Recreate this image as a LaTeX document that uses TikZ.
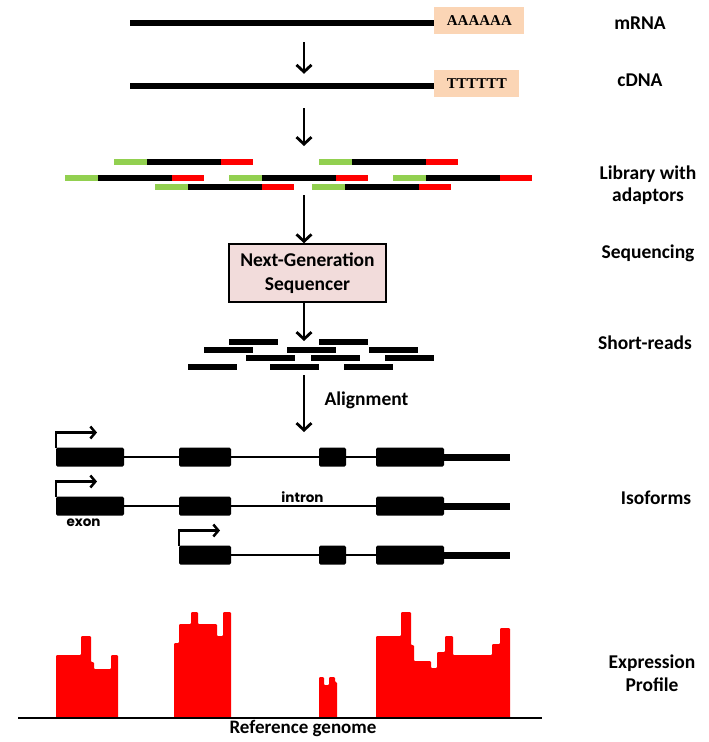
\documentclass[tikz,border=0pt]{standalone}
\usepackage{fontspec}
\setmainfont{Carlito}
\newfontfamily\tailfont{Liberation Serif}
\newfontfamily\genefont{Poppins}
\usetikzlibrary{arrows.meta,positioning}

\definecolor{adaptgreen}{HTML}{92D050}
\definecolor{adaptred}{HTML}{FF0000}
\definecolor{tailfill}{HTML}{FBD5B5}
\definecolor{ngsfill}{HTML}{F2DCDB}

\tikzset{
  strand/.style={fill=black, inner sep=0pt, minimum width=304pt, minimum height=6pt},
  polytail/.style={fill=tailfill, inner xsep=12.5pt, inner ysep=0pt, minimum height=27pt,
    font=\tailfont\bfseries\fontsize{15}{18}\selectfont},
  seqbox/.style={draw, line width=1.5pt, fill=ngsfill, minimum width=157pt, minimum height=58pt,
    align=center, font=\bfseries\fontsize{19.5}{24}\selectfont},
  flow/.style={line width=2.8pt, -{Straight Barb[length=7pt,width=15pt]}},
  steplabel/.style={align=center, font=\bfseries\fontsize{19.5}{22}\selectfont},
  tss/.style={line width=2.5pt, -{Straight Barb[length=5pt,width=12pt]}},
  intron/.style={line width=2pt},
  utr/.style={line width=7pt},
  exon/.style={rounded corners=1.5pt},
  genelabel/.style={font=\genefont\bfseries\fontsize{13.5}{15}\selectfont},
  profile/.style={fill=adaptred, rounded corners=1pt}
}

\begin{document}
\begin{tikzpicture}[x=1pt, y=-1pt]
\useasboundingbox (0,0) rectangle (709,742);
\coordinate (col) at (304,0);
\coordinate (lib) at (304,174);
\coordinate (reads) at (304,354);
\coordinate (iso) at (304,457);

% mRNA -> cDNA
\node[strand] (mrna) at (282,23) {};
\node[polytail, right=0pt of mrna, yshift=2.5pt] (polya) {AAAAAA};
\node[strand] (cdna) at (282,86) {};
\node[polytail, right=0pt of cdna, yshift=2.5pt] (polyt) {TTTTTT};

% library fragments: adaptor | insert | adaptor
\foreach \fx/\fy in {114/162, 319/162, 65/178, 229/178, 393/178, 155/187, 312/187} {
  \fill[adaptgreen] (\fx,\fy-3) rectangle ++(33,6);
  \fill (\fx+33,\fy-3) rectangle ++(74,6);
  \fill[adaptred] (\fx+107,\fy-3) rectangle ++(32,6);
}

\node[seqbox] (ngs) at (307.5,273) {Next-Generation\\Sequencer};

% short reads
\foreach \rx/\ry in {229/342, 319/342, 204/350, 287/350, 369/350, 246/358, 311/358, 385/358,
                     188/367, 270/367, 344/367}
  \fill (\rx,\ry-2.75) rectangle ++(49,5.5);

% arrows down the pipeline
\draw[flow] ([yshift=-16pt]mrna.south -| col) -- ([yshift=9pt]cdna.north -| col);
\draw[flow] ([yshift=-19pt]cdna.south -| col) -- ([yshift=28pt]lib);
\draw[flow] ([yshift=-21pt]lib) -- (ngs.north -| col);
\draw[flow] (ngs.south -| col) -- ([yshift=13pt]reads);
\draw[flow] ([yshift=-21pt]reads) -- ([yshift=25pt]iso);
\node[steplabel, anchor=base west] (alignlbl) at (321,405) {Alignment};

% isoforms
\foreach \ey/\ea in {457/56, 506/56, 555/179} {
  \draw[intron] (\ea,\ey) -- (444,\ey);
  \draw[utr] (444,\ey) -- (510,\ey);
  \draw[tss] (\ea,\ey-9) |- (\ea+41,\ey-24.5);
}
\foreach \xa/\xb/\ey in {56/124/457, 179/231/457, 319/346/457, 376/444/457,
                         56/124/506, 179/231/506, 376/444/506,
                         179/231/555, 319/346/555, 376/444/555}
  \fill[exon] (\xa,\ey-9.5) rectangle (\xb,\ey+9.5);
\node[genelabel, anchor=base] (exonlbl) at (83.5,526) {exon};
\node[genelabel, anchor=base] (intronlbl) at (302.5,502) {intron};

% expression profile
\fill[profile] (56,718) -- (56,655) -- (81,655) -- (81,636) -- (91,636) -- (91,662) -- (94,662)
  -- (94,669) -- (111,669) -- (111,655) -- (118,655) -- (118,718) -- cycle;
\fill[profile] (174,718) -- (174,643) -- (179,643) -- (179,624) -- (191,624) -- (191,612) -- (198,612)
  -- (198,624) -- (217,624) -- (217,636) -- (223,636) -- (223,612) -- (231,612) -- (231,718) -- cycle;
\fill[profile] (319,718) -- (319,677) -- (324,677) -- (324,685) -- (329,685) -- (329,677) -- (335,677)
  -- (335,682) -- (337,682) -- (337,718) -- cycle;
\fill[profile] (376,718) -- (376,636) -- (401,636) -- (401,612) -- (411,612) -- (411,645) -- (414,645)
  -- (414,661) -- (431,661) -- (431,668) -- (437,668) -- (437,652) -- (445,652) -- (445,636)
  -- (453,636) -- (453,655) -- (492,655) -- (492,644) -- (500,644) -- (500,628) -- (510,628)
  -- (510,718) -- cycle;
\draw[line width=2.5pt] (18,718) -- (542,718);
\node[steplabel, anchor=base, font=\bfseries\fontsize{19}{20}\selectfont] (refgen) at (303,733) {Reference genome};

% stage labels
\node[steplabel, anchor=base] (lbmrna) at (640,29) {mRNA};
\node[steplabel, anchor=base] (lbcdna) at (640,86) {cDNA};
\node[steplabel] (lblib) at (648,185) {Library with\\adaptors};
\node[steplabel, anchor=base] (lbseq) at (648,258) {Sequencing};
\node[steplabel, anchor=base] (lbreads) at (645,349) {Short-reads};
\node[steplabel, anchor=base] (lbiso) at (656,504) {Isoforms};
\node[steplabel, font=\bfseries\fontsize{19.5}{23}\selectfont] (lbexpr) at (652,673) {Expression\\Profile};
\end{tikzpicture}
\end{document}
